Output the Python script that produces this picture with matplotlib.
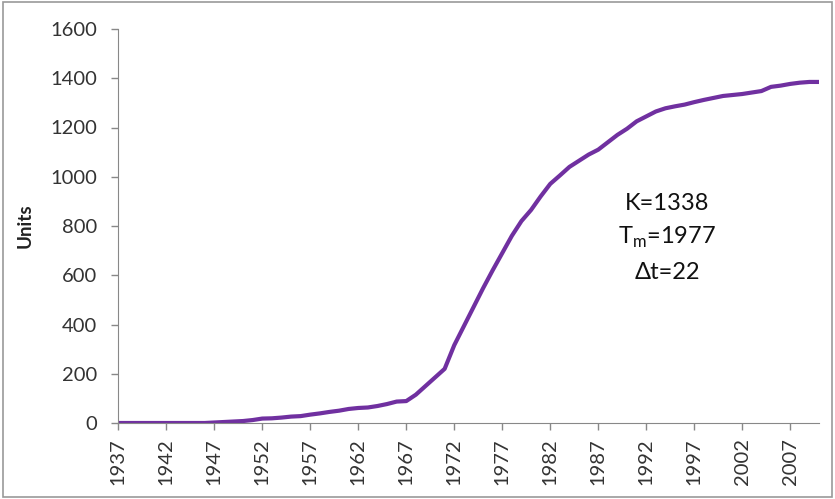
import matplotlib.pyplot as plt
from matplotlib.patches import Rectangle

# datos
years = list(range(1937, 2011))
units = [0, 0, 0, 0, 0, 0, 0, 0, 0, 0,          # 1937-1946
         2, 4, 6, 8, 12, 18, 19, 22, 26, 28,     # 1947-1956
         34, 39, 45, 50, 57, 61, 63, 69, 77, 87, # 1957-1966
         89, 115, 150, 185, 220, 316, 393, 470, 547, 620,   # 1967-1976
         690, 760, 820, 865, 920, 971, 1005, 1040, 1065, 1090,  # 1977-1986
         1110, 1140, 1170, 1195, 1225, 1245, 1265, 1278, 1286, 1293,  # 1987-1996
         1303, 1312, 1320, 1328, 1332, 1336, 1342, 1348, 1365, 1370,  # 1997-2006
         1377, 1382, 1385, 1385]                 # 2007-2010
xticks = list(range(1937, 2011, 5))
yticks = list(range(0, 1601, 200))
notes = ["K=1338", "T$_\\mathrm{m}$=1977", "Δt=22"]

plt.rcParams['font.family'] = ['Lato', 'DejaVu Sans']
plt.rcParams['mathtext.fontset'] = 'custom'
plt.rcParams['mathtext.rm'] = 'Lato'

fig = plt.figure(figsize=(8.35, 4.99), dpi=100)
ax = fig.add_axes([118.3 / 835, 76 / 499, (819 - 118.3) / 835, 394 / 499])

ax.plot(years, units, color="#7030A0", linewidth=3, solid_joinstyle="round")

ax.set_xlim(1937, 2010)
ax.set_ylim(0, 1600)
ax.set_xticks(xticks)
ax.set_xticklabels([str(t) for t in xticks], rotation=90)
ax.set_yticks(yticks)
ax.tick_params(axis="both", colors="#888888", labelcolor="#333333",
               labelsize=14.5, length=5, width=1)
ax.tick_params(axis="y", pad=10)
ax.tick_params(axis="x", pad=6)
for s in ["top", "right"]:
    ax.spines[s].set_visible(False)
for s in ["left", "bottom"]:
    ax.spines[s].set_color("#888888")
ax.set_ylabel("Units", fontsize=13.5, fontweight="bold", color="#222222", labelpad=12)

# texto con los parametros
ys = [0.556, 0.472, 0.383]
for t, yy in zip(notes, ys):
    ax.text(0.783, yy, t, transform=ax.transAxes, ha="center", va="center",
            fontsize=17, color="#111111")

# borde de la figura
fig.patches.append(Rectangle((0.004, 0.004), 0.992, 0.992, transform=fig.transFigure,
                             fill=False, edgecolor="#999999", linewidth=1.2))

fig.savefig("out.png", dpi=100)
